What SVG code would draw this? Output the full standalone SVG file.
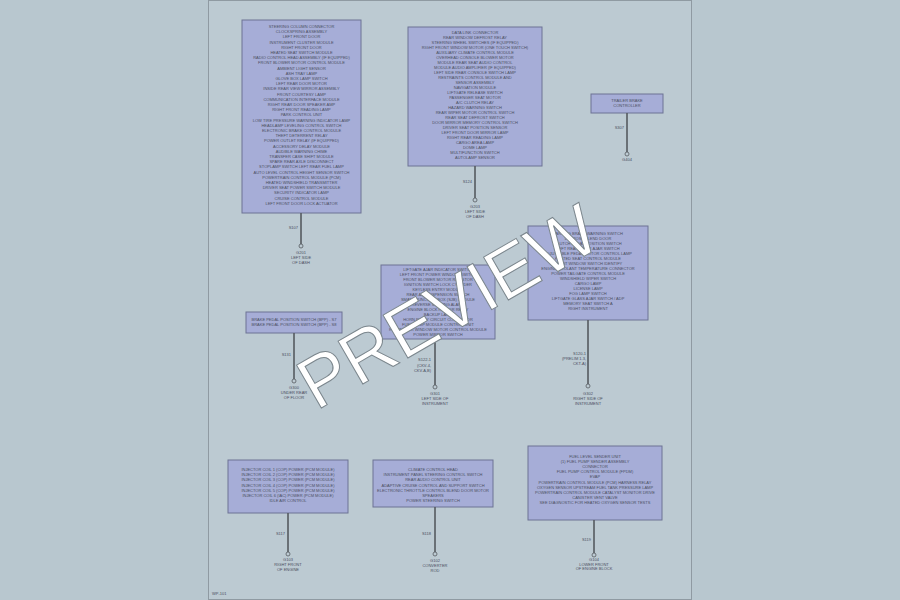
<svg xmlns="http://www.w3.org/2000/svg" width="900" height="600" viewBox="0 0 900 600">
<style>
.bg{fill:#b8c7cf}
.page{fill:#bccad2;stroke:#8f9aa2;stroke-width:1}
.box{fill:#a6add7;stroke:#6d7394;stroke-width:1}
.t{font-family:"Liberation Sans",Arial,sans-serif;font-size:4px;fill:#4a4d60;text-anchor:middle}
.l{font-family:"Liberation Sans",Arial,sans-serif;font-size:4px;fill:#4a4d60}
.wire{stroke:#555a60;stroke-width:1.6;fill:none}
.dot{fill:none;stroke:#555a60;stroke-width:0.8}
.wm{font-family:"Liberation Sans",Arial,sans-serif;font-size:72px;fill:#ffffff;stroke:#7a858c;stroke-width:1;text-anchor:middle}
</style>
<rect class="bg" x="0" y="0" width="900" height="600"/>
<rect class="page" x="208.5" y="0.5" width="483" height="599"/>

<g id="node1">
<rect class="box" x="242" y="20" width="119" height="193"/>
<text class="t" x="301.5" y="28"><tspan x="301.5" dy="0">STEERING COLUMN CONNECTOR</tspan><tspan x="301.5" dy="5.2">CLOCKSPRING ASSEMBLY</tspan><tspan x="301.5" dy="5.2">LEFT FRONT DOOR</tspan><tspan x="301.5" dy="5.2">INSTRUMENT CLUSTER MODULE</tspan><tspan x="301.5" dy="5.2">RIGHT FRONT DOOR</tspan><tspan x="301.5" dy="5.2">HEATED SEAT SWITCH MODULE</tspan><tspan x="301.5" dy="5.2">RADIO CONTROL HEAD ASSEMBLY (IF EQUIPPED)</tspan><tspan x="301.5" dy="5.2">FRONT BLOWER MOTOR CONTROL MODULE</tspan><tspan x="301.5" dy="5.2">AMBIENT LIGHT SENSOR</tspan><tspan x="301.5" dy="5.2">ASH TRAY LAMP</tspan><tspan x="301.5" dy="5.2">GLOVE BOX LAMP SWITCH</tspan><tspan x="301.5" dy="5.2">LEFT REAR DOOR MOTOR</tspan><tspan x="301.5" dy="5.2">INSIDE REAR VIEW MIRROR ASSEMBLY</tspan><tspan x="301.5" dy="5.2">FRONT COURTESY LAMP</tspan><tspan x="301.5" dy="5.2">COMMUNICATION INTERFACE MODULE</tspan><tspan x="301.5" dy="5.2">RIGHT REAR DOOR SPEAKER AMP</tspan><tspan x="301.5" dy="5.2">RIGHT FRONT READING LAMP</tspan><tspan x="301.5" dy="5.2">PARK CONTROL UNIT</tspan><tspan x="301.5" dy="5.2">LOW TIRE PRESSURE WARNING INDICATOR LAMP</tspan><tspan x="301.5" dy="5.2">HEADLAMP LEVELING CONTROL SWITCH</tspan><tspan x="301.5" dy="5.2">ELECTRONIC BRAKE CONTROL MODULE</tspan><tspan x="301.5" dy="5.2">THEFT DETERRENT RELAY</tspan><tspan x="301.5" dy="5.2">POWER OUTLET RELAY (IF EQUIPPED)</tspan><tspan x="301.5" dy="5.2">ACCESSORY DELAY MODULE</tspan><tspan x="301.5" dy="5.2">AUDIBLE WARNING CHIME</tspan><tspan x="301.5" dy="5.2">TRANSFER CASE SHIFT MODULE</tspan><tspan x="301.5" dy="5.2">SPARE REAR AXLE DISCONNECT</tspan><tspan x="301.5" dy="5.2">STOPLAMP SWITCH LEFT REAR FUEL LAMP</tspan><tspan x="301.5" dy="5.2">AUTO LEVEL CONTROL HEIGHT SENSOR SWITCH</tspan><tspan x="301.5" dy="5.2">POWERTRAIN CONTROL MODULE (PCM)</tspan><tspan x="301.5" dy="5.2">HEATED WINDSHIELD TRANSMITTER</tspan><tspan x="301.5" dy="5.2">DRIVER SEAT POWER SWITCH MODULE</tspan><tspan x="301.5" dy="5.2">SECURITY INDICATOR LAMP</tspan><tspan x="301.5" dy="5.2">CRUISE CONTROL MODULE</tspan><tspan x="301.5" dy="5.2">LEFT FRONT DOOR LOCK ACTUATOR</tspan></text>
</g>

<g id="node2">
<rect class="box" x="408" y="27" width="134" height="139"/>
<text class="t" x="475" y="34"><tspan x="475" dy="0">DATA LINK CONNECTOR</tspan><tspan x="475" dy="5">REAR WINDOW DEFROST RELAY</tspan><tspan x="475" dy="5">STEERING WHEEL SWITCHES (IF EQUIPPED)</tspan><tspan x="475" dy="5">RIGHT FRONT WINDOW MOTOR (ONE TOUCH SWITCH)</tspan><tspan x="475" dy="5">AUXILIARY CLIMATE CONTROL MODULE</tspan><tspan x="475" dy="5">OVERHEAD CONSOLE BLOWER MOTOR</tspan><tspan x="475" dy="5">MODULE REAR SEAT AUDIO CONTROL</tspan><tspan x="475" dy="5">MODULE AUDIO AMPLIFIER (IF EQUIPPED)</tspan><tspan x="475" dy="5">LEFT SIDE REAR CONSOLE SWITCH LAMP</tspan><tspan x="475" dy="5">RESTRAINTS CONTROL MODULE AND</tspan><tspan x="475" dy="5">SENSOR ASSEMBLY</tspan><tspan x="475" dy="5">NAVIGATION MODULE</tspan><tspan x="475" dy="5">LIFTGATE RELEASE SWITCH</tspan><tspan x="475" dy="5">PASSENGER SEAT MOTOR</tspan><tspan x="475" dy="5">A/C CLUTCH RELAY</tspan><tspan x="475" dy="5">HAZARD WARNING SWITCH</tspan><tspan x="475" dy="5">REAR WIPER MOTOR CONTROL SWITCH</tspan><tspan x="475" dy="5">REAR SEAT DEFROST SWITCH</tspan><tspan x="475" dy="5">DOOR MIRROR MEMORY CONTROL SWITCH</tspan><tspan x="475" dy="5">DRIVER SEAT POSITION SENSOR</tspan><tspan x="475" dy="5">LEFT FRONT DOOR MIRROR LAMP</tspan><tspan x="475" dy="5">RIGHT REAR READING LAMP</tspan><tspan x="475" dy="5">CARGO AREA LAMP</tspan><tspan x="475" dy="5">DOME LAMP</tspan><tspan x="475" dy="5">MULTIFUNCTION SWITCH</tspan><tspan x="475" dy="5">AUTOLAMP SENSOR</tspan></text>
</g>

<g id="node3">
<rect class="box" x="591" y="94" width="72" height="19"/>
<text class="t" x="627" y="102"><tspan x="627" dy="0">TRAILER BRAKE</tspan><tspan x="627" dy="5">CONTROLLER</tspan></text>
</g>

<g id="node4">
<rect class="box" x="246" y="312" width="96" height="21"/>
<text class="t" x="294" y="321"><tspan x="294" dy="0">BRAKE PEDAL POSITION SWITCH (BPP) - S7</tspan><tspan x="294" dy="5">BRAKE PEDAL POSITION SWITCH (BPP) - S8</tspan></text>
</g>

<g id="node5">
<rect class="box" x="381" y="265" width="114" height="74"/>
<text class="t" x="438" y="271"><tspan x="438" dy="0">LIFTGATE AJAR INDICATOR SWITCH</tspan><tspan x="438" dy="5">LEFT FRONT POWER WINDOW SWITCH</tspan><tspan x="438" dy="5">FRONT BLOWER MOTOR RESISTOR</tspan><tspan x="438" dy="5">IGNITION SWITCH LOCK CYLINDER</tspan><tspan x="438" dy="5">KEYLESS ENTRY MODULE</tspan><tspan x="438" dy="5">REAR AIR SUSPENSION SWITCH</tspan><tspan x="438" dy="5">SMART JUNCTION BOX (SJB) MODULE</tspan><tspan x="438" dy="5">REVERSE SENSING ALARM</tspan><tspan x="438" dy="5">ENGINE BLOCK HEATER RELAY</tspan><tspan x="438" dy="5">BACKUP LAMP</tspan><tspan x="438" dy="5">HORN RELAY CIRCUIT CONNECTOR</tspan><tspan x="438" dy="5">FUEL PUMP MODULE CONTROL UNIT</tspan><tspan x="438" dy="5">RIGHT REAR WINDOW MOTOR CONTROL MODULE</tspan><tspan x="438" dy="5">POWER MIRROR SWITCH</tspan></text>
</g>

<g id="node6">
<rect class="box" x="528" y="226" width="120" height="94"/>
<text class="t" x="588" y="235"><tspan x="588" dy="0">PARKING BRAKE WARNING SWITCH</tspan><tspan x="588" dy="5">DEFROST BLEND DOOR</tspan><tspan x="588" dy="5">CLUTCH PEDAL POSITION SWITCH</tspan><tspan x="588" dy="5">LEFT REAR DOOR AJAR SWITCH</tspan><tspan x="588" dy="5">ADJUSTABLE PEDAL MOTOR CONTROL LAMP</tspan><tspan x="588" dy="5">HEATED SEAT CONTROL MODULE</tspan><tspan x="588" dy="5">FRONT WINDOW SWITCH IDENTIFY</tspan><tspan x="588" dy="5">ENGINE COOLANT TEMPERATURE CONNECTOR</tspan><tspan x="588" dy="5">POWER TAILGATE CONTROL MODULE</tspan><tspan x="588" dy="5">WINDSHIELD WIPER SWITCH</tspan><tspan x="588" dy="5">CARGO LAMP</tspan><tspan x="588" dy="5">LICENSE LAMP</tspan><tspan x="588" dy="5">FOG LAMP SWITCH</tspan><tspan x="588" dy="5">LIFTGATE GLASS AJAR SWITCH / ADP</tspan><tspan x="588" dy="5">MEMORY SEAT SWITCH A</tspan><tspan x="588" dy="5">RIGHT INSTRUMENT</tspan></text>
</g>

<g id="node7">
<rect class="box" x="228" y="460" width="120" height="53"/>
<text class="t" x="288" y="471"><tspan x="288" dy="0">INJECTOR COIL 1 (COP) POWER (PCM MODULE)</tspan><tspan x="288" dy="5.2">INJECTOR COIL 2 (COP) POWER (PCM MODULE)</tspan><tspan x="288" dy="5.2">INJECTOR COIL 3 (COP) POWER (PCM MODULE)</tspan><tspan x="288" dy="5.2">INJECTOR COIL 4 (COP) POWER (PCM MODULE)</tspan><tspan x="288" dy="5.2">INJECTOR COIL 5 (COP) POWER (PCM MODULE)</tspan><tspan x="288" dy="5.2">INJECTOR COIL 6 (IAC) POWER (PCM MODULE)</tspan><tspan x="288" dy="5.2">IDLE AIR CONTROL</tspan></text>
</g>

<g id="node8">
<rect class="box" x="373" y="460" width="120" height="47"/>
<text class="t" x="433" y="471"><tspan x="433" dy="0">CLIMATE CONTROL HEAD</tspan><tspan x="433" dy="5.2">INSTRUMENT PANEL STEERING CONTROL SWITCH</tspan><tspan x="433" dy="5.2">REAR AUDIO CONTROL UNIT</tspan><tspan x="433" dy="5.2">ADAPTIVE CRUISE CONTROL AND SUPPORT SWITCH</tspan><tspan x="433" dy="5.2">ELECTRONIC THROTTLE CONTROL BLEND DOOR MOTOR</tspan><tspan x="433" dy="5.2">SPEAKERS</tspan><tspan x="433" dy="5.2">POWER STEERING SWITCH</tspan></text>
</g>

<g id="node9">
<rect class="box" x="528" y="446" width="134" height="74"/>
<text class="t" x="595" y="458"><tspan x="595" dy="0">FUEL LEVEL SENDER UNIT</tspan><tspan x="595" dy="5.1">(1) FUEL PUMP SENDER ASSEMBLY</tspan><tspan x="595" dy="5.1">CONNECTOR</tspan><tspan x="595" dy="5.1">FUEL PUMP CONTROL MODULE (FPDM)</tspan><tspan x="595" dy="5.1">EVAP</tspan><tspan x="595" dy="5.1">POWERTRAIN CONTROL MODULE (PCM) HARNESS RELAY</tspan><tspan x="595" dy="5.1">OXYGEN SENSOR UPSTREAM FUEL TANK PRESSURE LAMP</tspan><tspan x="595" dy="5.1">POWERTRAIN CONTROL MODULE CATALYST MONITOR DRIVE</tspan><tspan x="595" dy="5.1">CANISTER VENT VALVE</tspan><tspan x="595" dy="5.1">SEE DIAGNOSTIC FOR HEATED OXYGEN SENSOR TESTS</tspan></text>
</g>

<g id="connectors">
<line class="wire" x1="301" y1="213" x2="301" y2="244"/>
<circle class="dot" cx="301" cy="246" r="2"/>
<text class="l" x="298" y="229" text-anchor="end">S107</text>
<text class="t" x="301" y="254"><tspan x="301" dy="0">G201</tspan><tspan x="301" dy="5">LEFT SIDE</tspan><tspan x="301" dy="5">OF DASH</tspan></text>

<line class="wire" x1="475" y1="166" x2="475" y2="198"/>
<circle class="dot" cx="475" cy="200" r="2"/>
<text class="l" x="472" y="183" text-anchor="end">S124</text>
<text class="t" x="475" y="208"><tspan x="475" dy="0">G203</tspan><tspan x="475" dy="5">LEFT SIDE</tspan><tspan x="475" dy="5">OF DASH</tspan></text>

<line class="wire" x1="627" y1="113" x2="627" y2="152"/>
<circle class="dot" cx="627" cy="154" r="2"/>
<text class="l" x="624" y="129" text-anchor="end">S307</text>
<text class="t" x="627" y="161">G404</text>

<line class="wire" x1="294" y1="333" x2="294" y2="379"/>
<circle class="dot" cx="294" cy="381" r="2"/>
<text class="l" x="291" y="356" text-anchor="end">S131</text>
<text class="t" x="294" y="389"><tspan x="294" dy="0">G300</tspan><tspan x="294" dy="5">UNDER REAR</tspan><tspan x="294" dy="5">OF FLOOR</tspan></text>

<line class="wire" x1="435" y1="339" x2="435" y2="385"/>
<circle class="dot" cx="435" cy="387" r="2"/>
<text class="l" x="431" y="361" text-anchor="end"><tspan x="431" dy="0">S122-1</tspan><tspan x="431" dy="5.5">(CKV-4,</tspan><tspan x="431" dy="5.5">CKV-A,B)</tspan></text>
<text class="t" x="435" y="395"><tspan x="435" dy="0">G301</tspan><tspan x="435" dy="5">LEFT SIDE OF</tspan><tspan x="435" dy="5">INSTRUMENT</tspan></text>

<line class="wire" x1="588" y1="320" x2="588" y2="384"/>
<circle class="dot" cx="588" cy="386" r="2"/>
<text class="l" x="586" y="355" text-anchor="end"><tspan x="586" dy="0">S120-1</tspan><tspan x="586" dy="5">(PRELIM 1.3,</tspan><tspan x="586" dy="5">CKT-A)</tspan></text>
<text class="t" x="588" y="395"><tspan x="588" dy="0">G302</tspan><tspan x="588" dy="5">RIGHT SIDE OF</tspan><tspan x="588" dy="5">INSTRUMENT</tspan></text>

<line class="wire" x1="288" y1="513" x2="288" y2="552"/>
<circle class="dot" cx="288" cy="554" r="2"/>
<text class="l" x="285" y="535" text-anchor="end">S117</text>
<text class="t" x="288" y="561"><tspan x="288" dy="0">G103</tspan><tspan x="288" dy="5">RIGHT FRONT</tspan><tspan x="288" dy="5">OF ENGINE</tspan></text>

<line class="wire" x1="435" y1="507" x2="435" y2="552"/>
<circle class="dot" cx="435" cy="554" r="2"/>
<text class="l" x="431" y="535" text-anchor="end">S118</text>
<text class="t" x="435" y="562"><tspan x="435" dy="0">G102</tspan><tspan x="435" dy="5">CONVERTER</tspan><tspan x="435" dy="5">ROD</tspan></text>

<line class="wire" x1="594" y1="520" x2="594" y2="553"/>
<circle class="dot" cx="594" cy="555" r="2"/>
<text class="l" x="591" y="541" text-anchor="end">S119</text>
<text class="t" x="594" y="561"><tspan x="594" dy="0">G104</tspan><tspan x="594" dy="4.5">LOWER FRONT</tspan><tspan x="594" dy="4.5">OF ENGINE BLOCK</tspan></text>
</g>

<text class="l" x="212" y="595">WP-101</text>

<text class="wm" x="460" y="328" transform="rotate(-30 460 328)">PREVIEW</text>
</svg>
